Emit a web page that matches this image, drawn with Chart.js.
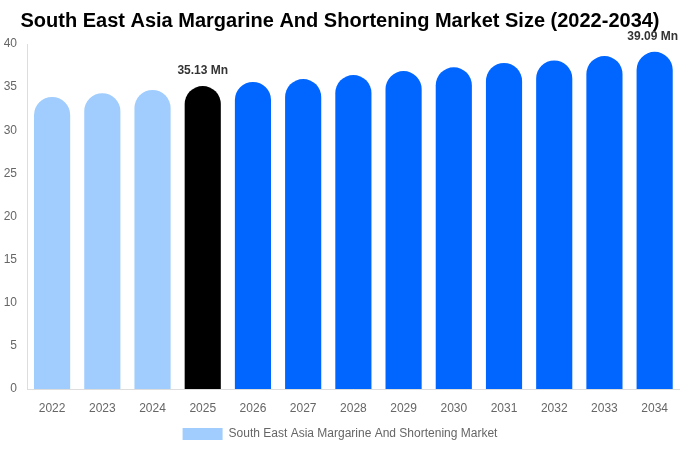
<!DOCTYPE html>
<html>
<head>
<meta charset="utf-8">
<script src="https://cdn.jsdelivr.net/npm/chart.js@4/dist/chart.umd.min.js"></script>
<style>
html,body{margin:0;padding:0;background:#fff;}
#wrap{width:680px;height:450px;position:relative;}
</style>
</head>
<body>
<div id="wrap"><canvas id="c"></canvas></div>
<script>
const categories = ['2022','2023','2024','2025','2026','2027','2028','2029','2030','2031','2032','2033','2034'];
const marketValues = [33.86, 34.3, 34.67, 35.13, 35.6, 35.94, 36.4, 36.86, 37.3, 37.8, 38.1, 38.6, 39.09];
const labelledYears = ['2025', '2034'];
const seriesName = 'South East Asia Margarine And Shortening Market';
const titleText = 'South East Asia Margarine And Shortening Market Size (2022-2034)';

const LIGHT = '#a0cdfd', DARK = '#000000', BLUE = '#0066ff';
const colors = categories.map(c => {
  const y = parseInt(c, 10);
  return y < 2025 ? LIGHT : (y === 2025 ? DARK : BLUE);
});

const labelPlugin = {
  id: 'valLabels',
  afterDatasetsDraw(chart) {
    const ctx = chart.ctx;
    const meta = chart.getDatasetMeta(0);
    ctx.save();
    ctx.font = 'bold 12px "Liberation Sans", Arial, sans-serif';
    ctx.fillStyle = '#333333';
    ctx.textAlign = 'center';
    ctx.textBaseline = 'bottom';
    meta.data.forEach((bar, i) => {
      if (labelledYears.includes(categories[i])) {
        const txt = marketValues[i].toFixed(2) + ' Mn';
        const w = ctx.measureText(txt).width;
        let x = bar.x;
        if (x + w / 2 > chart.width - 2) x = chart.width - 2 - w / 2;
        ctx.fillText(txt, x, bar.y - 9);
      }
    });
    ctx.restore();
  }
};

Chart.defaults.font.family = '"Liberation Sans", Arial, sans-serif';
new Chart(document.getElementById('c'), {
  type: 'bar',
  data: {
    labels: categories,
    datasets: [{
      label: seriesName,
      data: marketValues,
      backgroundColor: colors,
      borderRadius: {topLeft: 20, topRight: 20, bottomLeft: 0, bottomRight: 0},
      borderSkipped: false,
      categoryPercentage: 0.8,
      barPercentage: 0.9
    }]
  },
  options: {
    responsive: true,
    maintainAspectRatio: false,
    animation: false,
    devicePixelRatio: 1,
    layout: {padding: {left: 0, right: 0, top: 0, bottom: 0}},
    plugins: {
      title: {
        display: true,
        text: titleText,
        color: '#000',
        font: {size: 20, weight: 'bold'},
        padding: {top: 9, bottom: 11}
      },
      legend: {
        display: true,
        position: 'bottom',
        labels: {
          color: '#666',
          font: {size: 12},
          boxWidth: 40,
          boxHeight: 12,
          generateLabels(chart) {
            return [{
              text: seriesName,
              fillStyle: LIGHT,
              strokeStyle: LIGHT,
              lineWidth: 0,
              fontColor: '#666',
              datasetIndex: 0,
              hidden: false
            }];
          }
        }
      },
      tooltip: {enabled: false}
    },
    scales: {
      x: {
        grid: {display: false, drawTicks: false},
        border: {display: true, color: '#dddddd'},
        ticks: {color: '#666', font: {size: 12}, padding: 12},
        afterFit(s) { s.height = 29; }
      },
      y: {
        min: 0, max: 40,
        grid: {display: false, drawTicks: false},
        border: {display: true, color: '#dddddd'},
        ticks: {stepSize: 5, color: '#666', font: {size: 12}, padding: 10},
        afterFit(s) { s.width = 27; }
      }
    }
  },
  plugins: [labelPlugin]
});
</script>
</body>
</html>
